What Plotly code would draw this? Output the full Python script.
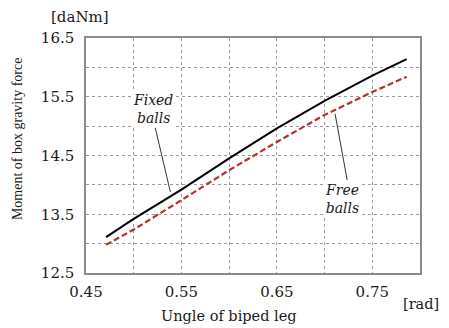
import plotly.graph_objects as go

angle = [0.471, 0.50, 0.55, 0.60, 0.65, 0.70, 0.75, 0.786]
fixed_balls = [13.11, 13.42, 13.92, 14.45, 14.96, 15.43, 15.86, 16.14]
free_balls = [12.98, 13.24, 13.74, 14.25, 14.73, 15.19, 15.58, 15.84]

x_ticks = [0.45, 0.55, 0.65, 0.75]
y_ticks = [12.5, 13.5, 14.5, 15.5, 16.5]

FONT = "DejaVu Serif"
TXT = "#1a1a1a"
fig = go.Figure()
fig.add_trace(go.Scatter(x=angle, y=fixed_balls, mode="lines",
                         line=dict(color="black", width=2), name="Fixed balls"))
fig.add_trace(go.Scatter(x=angle, y=free_balls, mode="lines",
                         line=dict(color="#b5322c", width=2.2, dash="6px,3px"), name="Free balls"))

grid = dict(showgrid=True, gridcolor="#9a9a9a", griddash="dot", gridwidth=1)
fig.update_xaxes(range=[0.45, 0.80], tickvals=x_ticks, ticktext=[f"{v:.2f}" for v in x_ticks],
                 minor=dict(dtick=0.05, tick0=0.45, showgrid=True, gridcolor="#9a9a9a", griddash="dot", gridwidth=1),
                 showline=True, linecolor="#8c8c8c", linewidth=1.5, mirror=True,
                 ticks="outside", ticklen=4, tickcolor="rgba(0,0,0,0)",
                 zeroline=False, tickfont=dict(family=FONT, size=15, color=TXT), **grid)
fig.update_yaxes(range=[12.5, 16.5], tickvals=y_ticks, ticktext=[f"{v:.1f}" for v in y_ticks],
                 minor=dict(dtick=0.5, tick0=12.5, showgrid=True, gridcolor="#9a9a9a", griddash="dot", gridwidth=1),
                 showline=True, linecolor="#8c8c8c", linewidth=1.5, mirror=True,
                 ticks="outside", ticklen=7, tickcolor="rgba(0,0,0,0)",
                 zeroline=False, tickfont=dict(family=FONT, size=15, color=TXT), **grid)

# leader lines
fig.add_shape(type="line", x0=0.5226, y0=14.97, x1=0.5384, y1=13.88, xref="x", yref="y",
              line=dict(color="#333", width=1))
fig.add_shape(type="line", x0=0.711, y0=15.21, x1=0.7237, y1=14.08, xref="x", yref="y",
              line=dict(color="#333", width=1))

ann_font = dict(family=FONT, size=14, color=TXT)
fig.add_annotation(x=0.5205, y=15.30, text="<i>Fixed<br>balls</i>", showarrow=False,
                   font=ann_font, align="center", bgcolor="white",
                   xanchor="center", yanchor="middle")
fig.add_annotation(x=0.7184, y=13.76, text="<i>Free<br>balls</i>", showarrow=False,
                   font=ann_font, align="center", bgcolor="white",
                   xanchor="center", yanchor="middle")

lab_font = dict(family=FONT, size=15, color=TXT)
common = dict(xref="paper", yref="paper", showarrow=False, xanchor="center", yanchor="middle")
fig.add_annotation(x=-0.018, y=1.089, text="[daNm]", font=lab_font, **common)
fig.add_annotation(x=1.003, y=-0.132, text="[rad]",
                   font=dict(family=FONT, size=14.5, color=TXT), **common)
fig.add_annotation(x=0.428, y=-0.183, text="Ungle of biped leg",
                   font=dict(family=FONT, size=14.5, color=TXT), **common)
fig.add_annotation(x=-0.2066, y=0.574, text="Moment of box gravity force",
                   font=dict(family="Liberation Serif", size=14, color=TXT), textangle=-90, **common)

# page body has an 8px margin: shrink figure so plot area lands at x 86-420, y 38-273
fig.update_layout(width=441, height=320, margin=dict(l=78, r=29, t=30, b=55),
                  plot_bgcolor="white", paper_bgcolor="white", showlegend=False)
fig.write_html("out.html")
